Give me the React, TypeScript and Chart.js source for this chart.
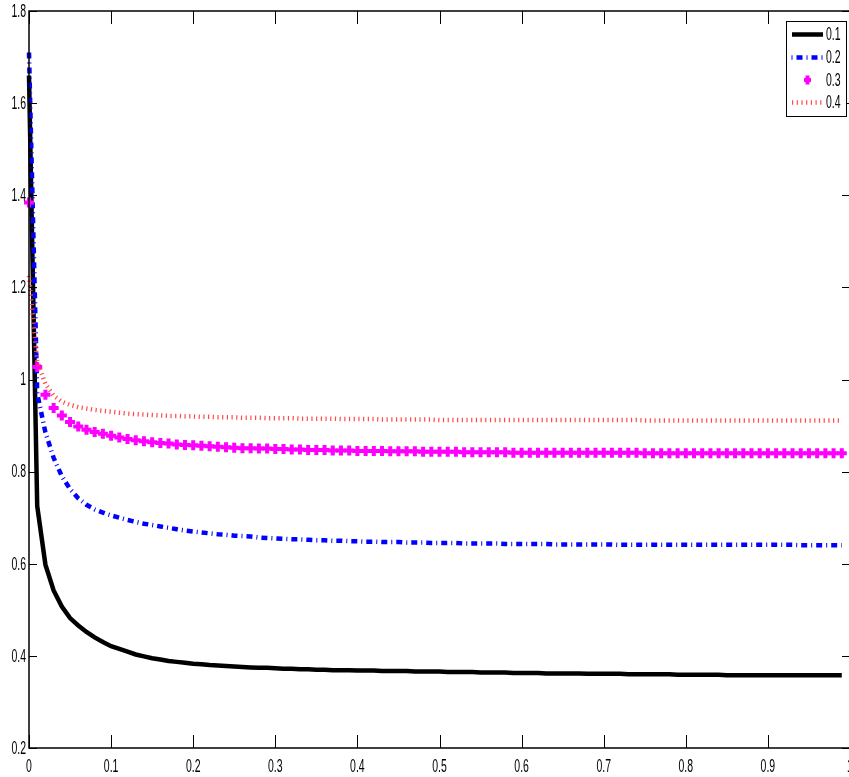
import React, { useEffect, useRef } from "react";
import { Chart, registerables } from "chart.js";

Chart.register(...registerables);

const xs = [
  0, 0.01, 0.02, 0.03, 0.04, 0.05, 0.06, 0.07, 0.08, 0.09,
  0.1, 0.11, 0.12, 0.13, 0.14, 0.15, 0.16, 0.17, 0.18, 0.19,
  0.2, 0.21, 0.22, 0.23, 0.24, 0.25, 0.26, 0.27, 0.28, 0.29,
  0.3, 0.31, 0.32, 0.33, 0.34, 0.35, 0.36, 0.37, 0.38, 0.39,
  0.4, 0.41, 0.42, 0.43, 0.44, 0.45, 0.46, 0.47, 0.48, 0.49,
  0.5, 0.51, 0.52, 0.53, 0.54, 0.55, 0.56, 0.57, 0.58, 0.59,
  0.6, 0.61, 0.62, 0.63, 0.64, 0.65, 0.66, 0.67, 0.68, 0.69,
  0.7, 0.71, 0.72, 0.73, 0.74, 0.75, 0.76, 0.77, 0.78, 0.79,
  0.8, 0.81, 0.82, 0.83, 0.84, 0.85, 0.86, 0.87, 0.88, 0.89,
  0.9, 0.91, 0.92, 0.93, 0.94, 0.95, 0.96, 0.97, 0.98, 0.99,
];

const series01 = [
  1.66, 0.725, 0.598, 0.542, 0.507, 0.482, 0.466, 0.452, 0.44, 0.43,
  0.421, 0.415, 0.409, 0.403, 0.399, 0.395, 0.392, 0.389, 0.387, 0.385,
  0.383, 0.382, 0.38, 0.379, 0.378, 0.377, 0.376, 0.375, 0.374, 0.374,
  0.373, 0.372, 0.372, 0.371, 0.371, 0.37, 0.37, 0.369, 0.369, 0.369,
  0.368, 0.368, 0.368, 0.367, 0.367, 0.367, 0.367, 0.366, 0.366, 0.366,
  0.366, 0.365, 0.365, 0.365, 0.365, 0.364, 0.364, 0.364, 0.364, 0.363,
  0.363, 0.363, 0.363, 0.362, 0.362, 0.362, 0.362, 0.362, 0.361, 0.361,
  0.361, 0.361, 0.361, 0.36, 0.36, 0.36, 0.36, 0.36, 0.36, 0.359,
  0.359, 0.359, 0.359, 0.359, 0.359, 0.358, 0.358, 0.358, 0.358, 0.358,
  0.358, 0.358, 0.358, 0.358, 0.358, 0.358, 0.358, 0.358, 0.358, 0.358,
];

const series02 = [
  1.71, 0.97, 0.885, 0.83, 0.79, 0.762, 0.742, 0.728, 0.718, 0.711,
  0.705, 0.7, 0.695, 0.691, 0.687, 0.684, 0.681, 0.678, 0.675, 0.672,
  0.67, 0.668, 0.666, 0.664, 0.663, 0.661, 0.66, 0.659, 0.657, 0.656,
  0.655, 0.654, 0.653, 0.653, 0.652, 0.651, 0.651, 0.65, 0.65, 0.649,
  0.649, 0.648, 0.648, 0.647, 0.647, 0.647, 0.646, 0.646, 0.646, 0.645,
  0.645, 0.645, 0.645, 0.644, 0.644, 0.644, 0.644, 0.644, 0.643, 0.643,
  0.643, 0.643, 0.643, 0.643, 0.642, 0.642, 0.642, 0.642, 0.642, 0.642,
  0.642, 0.642, 0.641, 0.641, 0.641, 0.641, 0.641, 0.641, 0.641, 0.641,
  0.641, 0.641, 0.641, 0.641, 0.641, 0.641, 0.641, 0.641, 0.641, 0.641,
  0.641, 0.641, 0.641, 0.641, 0.64, 0.64, 0.64, 0.64, 0.64, 0.64,
];

const series03 = [
  1.384, 1.027, 0.967, 0.938, 0.922, 0.908, 0.898, 0.891, 0.886, 0.882,
  0.878, 0.874, 0.871, 0.868, 0.866, 0.864, 0.862, 0.861, 0.859, 0.858,
  0.857, 0.856, 0.855, 0.854, 0.853, 0.852, 0.851, 0.851, 0.85, 0.85,
  0.849, 0.849, 0.848, 0.848, 0.847, 0.847, 0.847, 0.846, 0.846, 0.846,
  0.845, 0.845, 0.845, 0.845, 0.844, 0.844, 0.844, 0.844, 0.843, 0.843,
  0.843, 0.843, 0.843, 0.842, 0.842, 0.842, 0.842, 0.842, 0.842, 0.841,
  0.841, 0.841, 0.841, 0.841, 0.841, 0.841, 0.841, 0.841, 0.841, 0.841,
  0.841, 0.841, 0.841, 0.841, 0.841, 0.84, 0.84, 0.84, 0.84, 0.84,
  0.84, 0.84, 0.84, 0.84, 0.84, 0.84, 0.84, 0.84, 0.84, 0.84,
  0.84, 0.84, 0.84, 0.84, 0.84, 0.84, 0.84, 0.84, 0.84, 0.84,
];

const series04 = [
  1.225, 1.04, 0.99, 0.965, 0.952, 0.945, 0.94, 0.937, 0.934, 0.932,
  0.93, 0.928, 0.926, 0.925, 0.924, 0.923, 0.922, 0.921, 0.921, 0.92,
  0.92, 0.919, 0.919, 0.918, 0.918, 0.918, 0.917, 0.917, 0.917, 0.916,
  0.916, 0.916, 0.916, 0.915, 0.915, 0.915, 0.915, 0.915, 0.914, 0.914,
  0.914, 0.914, 0.914, 0.913, 0.913, 0.913, 0.913, 0.913, 0.913, 0.913,
  0.912, 0.912, 0.912, 0.912, 0.912, 0.912, 0.912, 0.912, 0.912, 0.912,
  0.912, 0.912, 0.912, 0.912, 0.912, 0.912, 0.912, 0.912, 0.912, 0.912,
  0.912, 0.912, 0.912, 0.912, 0.912, 0.911, 0.911, 0.911, 0.911, 0.911,
  0.911, 0.911, 0.911, 0.911, 0.911, 0.911, 0.911, 0.911, 0.911, 0.911,
  0.911, 0.911, 0.911, 0.911, 0.911, 0.911, 0.911, 0.911, 0.911, 0.911,
];

const seriesNames = ["0.1", "0.2", "0.3", "0.4"];
const xTicks = [0, 0.1, 0.2, 0.3, 0.4, 0.5, 0.6, 0.7, 0.8, 0.9, 1];
const xTickLabels = ["0", "0.1", "0.2", "0.3", "0.4", "0.5", "0.6", "0.7", "0.8", "0.9", "1"];
const yTicks = [0.2, 0.4, 0.6, 0.8, 1, 1.2, 1.4, 1.6, 1.8];
const yTickLabels = ["0.2", "0.4", "0.6", "0.8", "1", "1.2", "1.4", "1.6", "1.8"];

const BLACK = "#000000";
const BLUE = "#0000ff";
const MAGENTA = "#ff00ff";
const RED = "#ff4a4a";
const FONT = "17.5px 'Liberation Sans', Arial, sans-serif";
const SQUEEZE = 0.6;

const toPoints = (vals: number[]) => xs.map((x, i) => ({ x, y: vals[i] }));

const matlabAxes = {
  id: "matlabAxes",
  afterDatasetsDraw(chart: any) {
    const { ctx, chartArea, scales } = chart;
    const { left, right, top, bottom } = chartArea;
    const sx = scales.x;
    const sy = scales.y;
    ctx.save();
    ctx.strokeStyle = "#000";
    ctx.lineWidth = 1.5;
    ctx.beginPath();
    ctx.moveTo(left, bottom);
    ctx.lineTo(left, top);
    ctx.lineTo(right, top);
    ctx.lineTo(right, bottom);
    ctx.closePath();
    ctx.stroke();
    ctx.lineWidth = 1;
    xTicks.forEach((v) => {
      const px = Math.round(sx.getPixelForValue(v)) + 0.5;
      ctx.beginPath();
      ctx.moveTo(px, bottom);
      ctx.lineTo(px, bottom - 13);
      ctx.moveTo(px, top);
      ctx.lineTo(px, top + 13);
      ctx.stroke();
    });
    yTicks.forEach((v) => {
      const py = Math.round(sy.getPixelForValue(v)) + 0.5;
      ctx.beginPath();
      ctx.moveTo(left, py);
      ctx.lineTo(left + 8, py);
      ctx.moveTo(right, py);
      ctx.lineTo(right - 8, py);
      ctx.stroke();
    });
    ctx.fillStyle = "#000";
    ctx.font = FONT;
    ctx.textAlign = "center";
    ctx.textBaseline = "alphabetic";
    xTicks.forEach((v, i) => {
      const px = sx.getPixelForValue(v);
      ctx.save();
      ctx.translate(px, 772);
      ctx.scale(SQUEEZE, 1);
      ctx.fillText(xTickLabels[i], 0, 0);
      ctx.restore();
    });
    ctx.textAlign = "right";
    ctx.textBaseline = "middle";
    yTicks.forEach((v, i) => {
      const py = sy.getPixelForValue(v);
      ctx.save();
      ctx.translate(26, py + 1);
      ctx.scale(SQUEEZE, 1);
      ctx.fillText(yTickLabels[i], 0, 0);
      ctx.restore();
    });
    const lx = 786.5, ly = 21.5, lw = 60, lh = 95;
    ctx.fillStyle = "#fff";
    ctx.fillRect(lx, ly, lw, lh);
    ctx.strokeStyle = "#000";
    ctx.lineWidth = 1;
    ctx.strokeRect(lx, ly, lw, lh);
    const rows = [34.5, 57.5, 80, 102.5];
    const x0 = 792, x1 = 823;
    ctx.strokeStyle = BLACK;
    ctx.lineWidth = 4.5;
    ctx.beginPath();
    ctx.moveTo(x0, rows[0]);
    ctx.lineTo(x1, rows[0]);
    ctx.stroke();
    ctx.strokeStyle = BLUE;
    ctx.lineWidth = 4.5;
    ctx.setLineDash([1, 4, 6, 4]);
    ctx.beginPath();
    ctx.moveTo(x0 - 0.5, rows[1]);
    ctx.lineTo(x1, rows[1]);
    ctx.stroke();
    ctx.strokeStyle = RED;
    ctx.lineWidth = 4.5;
    ctx.setLineDash([1.2, 3.5]);
    ctx.beginPath();
    ctx.moveTo(x0, rows[3]);
    ctx.lineTo(x1, rows[3]);
    ctx.stroke();
    ctx.setLineDash([]);
    ctx.strokeStyle = MAGENTA;
    ctx.lineWidth = 4;
    ctx.beginPath();
    ctx.moveTo(807.5, rows[2] - 4.5);
    ctx.lineTo(807.5, rows[2] + 4.5);
    ctx.moveTo(804, rows[2]);
    ctx.lineTo(811, rows[2]);
    ctx.stroke();
    ctx.fillStyle = "#000";
    ctx.font = FONT;
    ctx.textAlign = "left";
    ctx.textBaseline = "middle";
    seriesNames.forEach((n, i) => {
      ctx.save();
      ctx.translate(826, rows[i] + 1);
      ctx.scale(SQUEEZE, 1);
      ctx.fillText(n, 0, 0);
      ctx.restore();
    });
    ctx.restore();
  },
};

export default function App() {
  const ref = useRef<HTMLCanvasElement | null>(null);
  useEffect(() => {
    if (!ref.current) return;
    const chart = new Chart(ref.current, {
      type: "line",
      data: {
        datasets: [
          {
            label: seriesNames[0],
            data: toPoints(series01),
            borderColor: BLACK,
            borderWidth: 4.5,
            pointRadius: 0,
            tension: 0,
            clip: false as any,
            order: 4,
          },
          {
            label: seriesNames[1],
            data: toPoints(series02),
            borderColor: BLUE,
            borderWidth: 4.5,
            borderDash: [6, 4, 1, 4],
            pointRadius: 0,
            tension: 0,
            clip: false as any,
            order: 3,
          },
          {
            label: seriesNames[2],
            data: toPoints(series03),
            showLine: false,
            pointStyle: "cross",
            pointRadius: 5,
            pointBorderWidth: 4,
            pointBorderColor: MAGENTA,
            pointBackgroundColor: MAGENTA,
            borderColor: MAGENTA,
            clip: false as any,
            order: 2,
          },
          {
            label: seriesNames[3],
            data: toPoints(series04),
            borderColor: RED,
            borderWidth: 4.5,
            borderDash: [1.2, 3.5],
            borderCapStyle: "butt",
            pointRadius: 0,
            tension: 0,
            clip: false as any,
            order: 1,
          },
        ],
      },
      options: {
        animation: false,
        responsive: false,
        maintainAspectRatio: false,
        layout: { autoPadding: false, padding: { left: 29, right: 1, top: 11, bottom: 29 } },
        scales: {
          x: { type: "linear", display: false, min: 0, max: 1 },
          y: { type: "linear", display: false, min: 0.2, max: 1.8 },
        },
        plugins: { legend: { display: false }, tooltip: { enabled: false } },
      },
      plugins: [matlabAxes],
    });
    return () => chart.destroy();
  }, []);
  return (
    <div
      style={{
        position: "absolute",
        left: 0,
        top: 0,
        width: 849,
        height: 777,
        overflow: "hidden",
        background: "#fff",
      }}
    >
      <canvas ref={ref} width={851} height={777} style={{ display: "block", width: 851, height: 777 }} />
    </div>
  );
}
